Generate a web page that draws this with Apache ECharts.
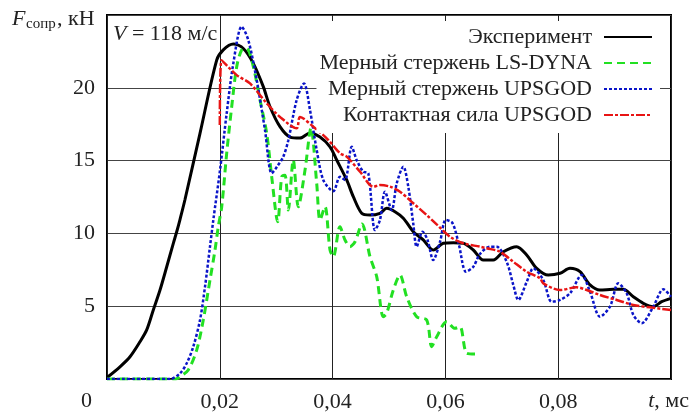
<!DOCTYPE html>
<html><head><meta charset="utf-8">
<script src="https://cdn.jsdelivr.net/npm/echarts@6/dist/echarts.min.js"></script>
<style>html,body{margin:0;padding:0;background:#fff}#c{width:691px;height:416px}</style>
</head><body><div id="c"></div>
<script>
const seriesNames = ['Эксперимент', 'Мерный стержень LS-DYNA', 'Мерный стержень UPSGOD', 'Контактная сила UPSGOD'];

const expT = [0,0.0023,0.00408,0.00585,0.00704,0.00821,0.0094,0.01059,0.01176,0.01246,0.01294,0.01383,0.01649,0.01945,0.02062,0.0224,0.02417,0.02594,0.02771,0.0289,0.03067,0.03245,0.03422,0.03599,0.03777,0.03954,0.04073,0.0425,0.04367,0.04516,0.04663,0.0484,0.04959,0.05106,0.05254,0.05431,0.05608,0.05785,0.05963,0.0614,0.06317,0.06495,0.06672,0.06849,0.07027,0.07264,0.07441,0.07619,0.07824,0.08032,0.08209,0.08387,0.08564,0.08741,0.08977,0.09154,0.09332,0.09509,0.09686,0.09835,0.1];
const expF = [0.1,0.84,1.53,2.56,3.37,4.74,6.11,7.71,9.32,10.25,10.95,12.33,16.87,21.9,22.6,23.0,22.7,21.68,20.08,18.7,17.33,16.62,16.55,16.9,16.62,15.95,15.04,13.67,12.52,11.38,11.26,11.38,11.72,11.49,11.04,10.12,9.55,8.86,9.32,9.36,9.32,8.86,8.17,8.17,8.74,9.09,8.52,7.6,7.14,7.26,7.6,7.37,6.46,6.11,6.16,6.16,5.65,5.2,4.97,5.31,5.54];

const lsT = [0,0.0122,0.01294,0.01441,0.0159,0.01707,0.01826,0.01915,0.01973,0.02034,0.02122,0.02211,0.023,0.02388,0.02477,0.02594,0.02713,0.02832,0.0292,0.03027,0.03098,0.03156,0.03215,0.03303,0.03392,0.03511,0.03617,0.03718,0.03777,0.03865,0.03954,0.04012,0.04131,0.0422,0.04309,0.04397,0.04521,0.04663,0.04782,0.04899,0.04959,0.05076,0.05195,0.05314,0.05491,0.05668,0.05757,0.05846,0.06023,0.0617,0.06259,0.06378,0.06525];
const lsF = [0,0,0.16,0.62,1.99,4.05,6.8,8.86,10.46,11.83,15.5,18.7,21.45,22.6,22.7,21.45,19.16,16.87,13.9,10.8,13.9,14.0,11.6,15.04,11.83,14.35,17.24,13.44,10.92,11.83,8.86,8.4,10.46,9.55,9.09,9.43,10.65,8.4,7.03,4.28,4.51,6.11,7.14,5.65,4.28,4.05,2.22,2.9,3.94,3.48,3.59,1.77,1.72];

const upsT = [0,0.01117,0.01294,0.01413,0.0153,0.01649,0.01738,0.01826,0.01885,0.02004,0.02122,0.0224,0.02388,0.02505,0.02654,0.02801,0.0292,0.03014,0.03126,0.03215,0.03363,0.03493,0.03599,0.03718,0.03835,0.04012,0.04131,0.0422,0.04339,0.04427,0.04544,0.04633,0.04752,0.0484,0.04929,0.05048,0.05137,0.05254,0.05342,0.05431,0.05491,0.05594,0.05683,0.05785,0.05904,0.06007,0.06126,0.06241,0.06365,0.06495,0.06613,0.06791,0.0691,0.07087,0.07204,0.07293,0.07441,0.07559,0.07736,0.07885,0.08032,0.08209,0.08417,0.08564,0.08741,0.08918,0.09066,0.09214,0.09332,0.0948,0.09686,0.09863,0.1];
const upsF = [0,0,0.39,1.08,2.22,4.05,6.34,9.09,10.92,14.35,18.25,21.68,24.2,23.28,20.54,17.1,14.13,14.58,15.27,16.4,19.16,20.3,18.48,15.73,13.67,12.9,13.89,13.67,15.95,15.04,14.24,14.13,10.23,10.92,12.86,11.6,13.44,14.58,13.21,10.65,9.09,10.12,9.55,8.17,9.41,10.92,10.71,9.2,7.37,7.71,8.59,9.09,9.09,8.04,6.46,5.43,6.66,7.6,6.8,5.31,5.43,5.89,7.14,6.0,4.28,4.97,6.57,5.89,4.4,3.83,4.97,6.16,5.65];

const contT = [0.02,0.0203,0.023,0.02535,0.02832,0.03067,0.03363,0.03422,0.03658,0.03895,0.04131,0.0425,0.04486,0.04722,0.0484,0.05018,0.05195,0.05431,0.05668,0.0585,0.06082,0.06317,0.06613,0.06732,0.06968,0.072,0.07441,0.07677,0.07736,0.08032,0.08328,0.08505,0.08741,0.09037,0.09332,0.09628,0.1];
const contF = [17.45,21.9,20.87,20.3,18.94,18.0,17.22,18.0,17.33,16.53,15.5,15.27,14.24,13.21,13.32,13.21,12.86,12.07,11.26,10.6,9.77,9.32,9.09,8.98,8.74,8.06,7.37,6.92,6.57,6.11,6.3,6.11,5.77,5.43,5.08,4.92,4.74];

const xMin = 0, xMax = 0.1, xStep = 0.02;
const yMin = 0, yMax = 25, yStep = 5;

const pairs = (ts, fs) => ts.map((t, i) => [t, fs[i]]);
const FONT = 'Liberation Serif';
const chart = echarts.init(document.getElementById('c'), null, {renderer: 'canvas'});

function lineSeries(name, ts, fs, color, width, type) {
  return {name, type: 'line', symbol: 'none', smooth: 0.3, data: pairs(ts, fs),
    lineStyle: {color, width, type}, itemStyle: {color, opacity: 0}};
}

chart.setOption({
  animation: false,
  backgroundColor: '#fff',
  grid: {left: 107, right: 20, top: 15, bottom: 37, show: true, borderColor: '#000', borderWidth: 2, backgroundColor: 'transparent'},
  xAxis: {
    type: 'value', min: xMin, max: xMax, interval: xStep,
    axisLine: {show: false}, axisTick: {show: false},
    splitLine: {show: true, lineStyle: {color: '#222', width: 1}},
    axisLabel: {
      margin: 12, fontFamily: FONT, fontSize: 22, color: '#222',
      formatter: v => (v <= 0 || v >= xMax - 1e-9) ? '' : v.toFixed(2).replace('.', ',')
    }
  },
  yAxis: {
    type: 'value', min: yMin, max: yMax, interval: yStep,
    axisLine: {show: false}, axisTick: {show: false},
    splitLine: {show: true, lineStyle: {color: '#444', width: 1}},
    axisLabel: {
      margin: 12, fontFamily: FONT, fontSize: 22, color: '#222',
      formatter: v => (v <= 0 || v >= yMax) ? '' : String(v)
    }
  },
  legend: {
    orient: 'vertical', right: 31, top: 21, align: 'right',
    itemWidth: 48, itemHeight: 14, itemGap: 4,
    padding: [5, 7, 7, 3], backgroundColor: '#fff',
    itemStyle: {opacity: 0},
    textStyle: {fontFamily: FONT, fontSize: 22, color: '#222', lineHeight: 22, padding: [0, 7, 0, 0]},
    data: seriesNames
  },
  graphic: [
    {type: 'text', left: 12, top: 8, style: {text: 'F', font: 'italic 22px "Liberation Serif"', fill: '#222'}},
    {type: 'text', left: 26, top: 17, style: {text: 'сопр', font: '15px "Liberation Serif"', fill: '#222'}},
    {type: 'text', left: 57, top: 8, style: {text: ', кН', font: '22px "Liberation Serif"', fill: '#222'}},
    {type: 'text', left: 113, top: 23, style: {text: '{i|V} = 118 м/с', font: '22px "Liberation Serif"', fill: '#222', rich: {i: {fontStyle: 'italic', fontFamily: FONT, fontSize: 22}}}},
    {type: 'text', left: 81, top: 390, style: {text: '0', font: '22px "Liberation Serif"', fill: '#222'}},
    {type: 'text', right: 2, top: 390, style: {text: '{i|t}, мс', font: '22px "Liberation Serif"', fill: '#222', rich: {i: {fontStyle: 'italic', fontFamily: FONT, fontSize: 22}}}}
  ],
  series: [
    lineSeries(seriesNames[0], expT, expF, '#000', 3, 'solid'),
    lineSeries(seriesNames[1], lsT, lsF, '#22e022', 3, [8, 5]),
    lineSeries(seriesNames[2], upsT, upsF, '#0a14c8', 2.5, [3, 2]),
    lineSeries(seriesNames[3], contT, contF, '#e81414', 2.5, [9, 2, 3, 2])
  ]
});
</script>
</body></html>
